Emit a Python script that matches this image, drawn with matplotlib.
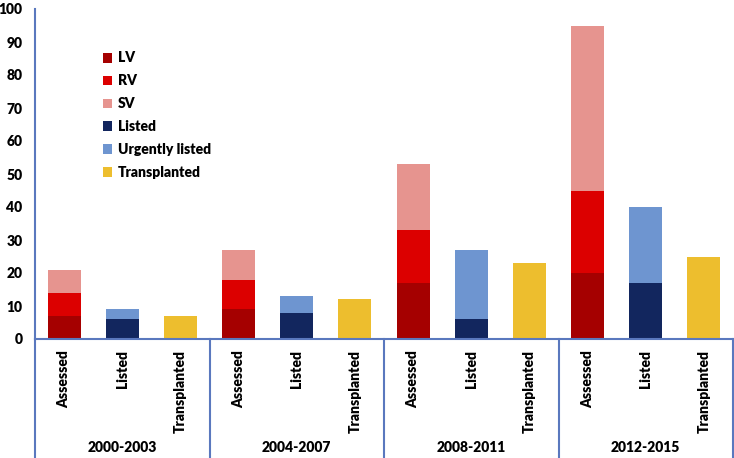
import matplotlib
matplotlib.use("Agg")
import matplotlib.pyplot as plt
import numpy as np

periods = ["2000-2003", "2004-2007", "2008-2011", "2012-2015"]
bar_labels = ["Assessed", "Listed", "Transplanted"]
lv = [7, 9, 17, 20]
rv = [7, 9, 16, 25]
sv = [7, 9, 20, 50]
listed = [6, 8, 6, 17]
urgent = [3, 5, 21, 23]
transplanted = [7, 12, 23, 25]
yticks = list(range(0, 101, 10))

FONT = ["Lato", "DejaVu Sans"]
plt.rcParams["font.family"] = FONT
plt.rcParams["font.weight"] = "bold"

c_lv = "#A50000"
c_rv = "#DC0000"
c_sv = "#E6948F"
c_listed = "#12265E"
c_urgent = "#6E95D0"
c_tx = "#EDBE2E"
c_axis = "#5A78BE"

top_px = 9
fig = plt.figure(figsize=(7.34, 4.58), dpi=100)
ax = fig.add_axes([35/734, 1 - 339/458, (733-35)/734, (339-top_px)/458])
hpx = 339 - top_px

n = len(periods)
xa = np.arange(n) * 3
xl = xa + 1
xt = xa + 2
w = 0.57

lv_a = np.array(lv); rv_a = np.array(rv); sv_a = np.array(sv)
h1 = ax.bar(xa, lv_a, w, color=c_lv, label="LV")
h2 = ax.bar(xa, rv_a, w, bottom=lv_a, color=c_rv, label="RV")
h3 = ax.bar(xa, sv_a, w, bottom=lv_a + rv_a, color=c_sv, label="SV")
h4 = ax.bar(xl, listed, w, color=c_listed, label="Listed")
h5 = ax.bar(xl, urgent, w, bottom=listed, color=c_urgent, label="Urgently listed")
h6 = ax.bar(xt, transplanted, w, color=c_tx, label="Transplanted")

ax.set_xlim(-0.5, 3 * n - 0.5)
ax.set_ylim(0, 100)
ax.set_yticks(yticks)
ax.set_yticklabels([str(t) for t in yticks], fontsize=10, fontweight="heavy")
ax.tick_params(axis="y", length=0, pad=9)
ax.set_xticks([])
for s in ["top", "right"]:
    ax.spines[s].set_visible(False)
ax.spines["left"].set_color(c_axis)
ax.spines["left"].set_linewidth(1.5)
ax.spines["bottom"].set_color(c_axis)
ax.spines["bottom"].set_linewidth(1.5)

# category labels
trans = ax.get_xaxis_transform()
for g in range(n):
    for k, lab in enumerate(bar_labels):
        ax.text(g * 3 + k, -11 / hpx, lab, rotation=90, ha="center", va="top",
                fontsize=10, fontweight="heavy", transform=trans)
    ax.text(g * 3 + 1, -109 / hpx, periods[g], ha="center", va="center",
            fontsize=10, fontweight="heavy", transform=trans)

# separators
for g in range(n + 1):
    ax.plot([g * 3 - 0.5, g * 3 - 0.5], [0, -119 / hpx], color=c_axis, lw=1.5,
            transform=trans, clip_on=False)

leg = ax.legend(handles=[h1, h2, h3, h4, h5, h6], loc="upper left",
                bbox_to_anchor=(90 / 734, 1 - 39 / 458), bbox_transform=fig.transFigure,
                frameon=False, handlelength=0.7, handleheight=0.7, handletextpad=0.4,
                labelspacing=0.71, prop={"size": 10, "weight": "heavy", "family": FONT})

fig.savefig("out.png", dpi=100)
